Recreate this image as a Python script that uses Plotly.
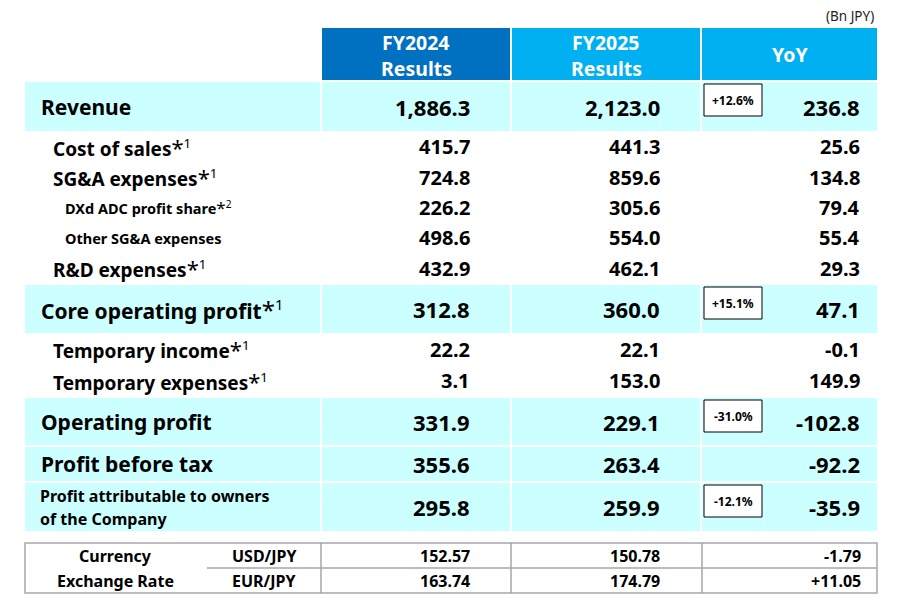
import plotly.graph_objects as go

# Données du tableau (milliards de JPY)
labels = ["Revenue", "Cost of sales", "SG&A expenses", "DXd ADC profit share",
          "Other SG&A expenses", "R&D expenses", "Core operating profit",
          "Temporary income", "Temporary expenses", "Operating profit",
          "Profit before tax", "Profit attributable to owners<br>of the Company"]
notes = ["", "1", "1", "2", "", "1", "1", "1", "1", "", "", ""]
fy2024 = [1886.3, 415.7, 724.8, 226.2, 498.6, 432.9, 312.8, 22.2, 3.1, 331.9, 355.6, 295.8]
fy2025 = [2123.0, 441.3, 859.6, 305.6, 554.0, 462.1, 360.0, 22.1, 153.0, 229.1, 263.4, 259.9]
yoy = [236.8, 25.6, 134.8, 79.4, 55.4, 29.3, 47.1, -0.1, 149.9, -102.8, -92.2, -35.9]
yoy_pct = ["+12.6%", "", "", "", "", "", "+15.1%", "", "", "-31.0%", "", "-12.1%"]

headers = ["FY2024<br>Results", "FY2025<br>Results", "YoY"]
unit = "(Bn JPY)"

fx_title = ["Currency", "Exchange Rate"]
fx_pairs = ["USD/JPY", "EUR/JPY"]
fx_2024 = [152.57, 163.74]
fx_2025 = [150.78, 174.79]
fx_yoy = [-1.79, 11.05]

# Mise en page (pixels de la page ; la page a une marge de 8 px)
W, H = 897, 607
OFF = 8
FONT = "Noto Sans"
level = [0, 1, 1, 2, 2, 1, 0, 1, 1, 0, 0, 3]
row_h = [51, 31, 30, 30, 31, 30, 50, 32, 31, 49, 36, 50]
highlight = [True, False, False, False, False, False, True, False, False, True, True, True]
label_x = {0: 39, 1: 51, 2: 63, 3: 38}
label_size = {0: 21, 1: 19, 2: 14.5, 3: 16}
value_size = {0: 22, 1: 20, 2: 20, 3: 22}
cols = [(25, 320), (322, 510), (512, 700), (702, 877)]
value_right = [472, 662, 862]
CYAN = "#CCFFFF"

shapes = []
ann = []


def rect(x0, y0, x1, y1, fill, line=None, lw=0):
    shapes.append(dict(type="rect", xref="x", yref="y", x0=x0, y0=y0, x1=x1, y1=y1,
                       fillcolor=fill, line=dict(color=line or fill, width=lw), layer="below"))


def text(x, y, s, size, anchor="right", color="black", bold=True):
    ann.append(dict(x=x, y=y, xref="x", yref="y", text=("<b>%s</b>" % s) if bold else s,
                    showarrow=False, xanchor=anchor, yanchor="middle",
                    font=dict(family=FONT, size=size, color=color)))


def note(n, size):
    return ("<span style='font-weight:normal;font-size:%dpx'>*</span>"
            "<span style='font-weight:normal'><sup>%s</sup></span>") % (size + 3, n)


# en-tête
ann.append(dict(x=876, y=16, xref="x", yref="y", text=unit, showarrow=False,
                xanchor="right", yanchor="middle", font=dict(family=FONT, size=13.5, color="#222")))
head_colors = ["#0070C0", "#00B0F0", "#00B0F0"]
for (x0, x1), h, c in zip(cols[1:], headers, head_colors):
    rect(x0, 28, x1, 80, c)
    parts = h.split("<br>")
    if len(parts) == 2:
        text((x0 + x1) / 2, 42, parts[0], 19.5, "center", "white")
        text((x0 + x1) / 2, 68, parts[1], 19.5, "center", "white")
    else:
        text((x0 + x1) / 2, 54, parts[0], 19.5, "center", "white")

# lignes du compte de résultat
y = 80
for i, lab in enumerate(labels):
    top, bot = y, y + row_h[i]
    y = bot
    lv = level[i]
    if highlight[i]:
        for x0, x1 in cols:
            rect(x0, top + 2, x1, bot, CYAN)
        yc = (top + 2 + bot) / 2
    else:
        yc = (top + bot) / 2
    parts = lab.split("<br>")
    for k, p in enumerate(parts):
        s = "<b>%s</b>" % p
        if notes[i] and k == len(parts) - 1:
            s += note(notes[i], label_size[lv])
        ly = yc + (k - (len(parts) - 1) / 2) * 23
        ann.append(dict(x=label_x[lv], y=ly, xref="x", yref="y", text=s, showarrow=False,
                        xanchor="left", yanchor="middle", align="left",
                        font=dict(family=FONT, size=label_size[lv], color="black")))
    for xr, v in zip(value_right, [fy2024[i], fy2025[i], yoy[i]]):
        text(xr, yc, "{:,.1f}".format(v), value_size[lv])
    if yoy_pct[i]:
        shapes.append(dict(type="rect", xref="x", yref="y", x0=704, x1=762,
                           y0=top + 4, y1=top + 36, fillcolor="white",
                           line=dict(color="black", width=1)))
        text(733, top + 20, yoy_pct[i], 12, "center")

# tableau des taux de change
GRAY = "#A6A6A6"
fx_top, fx_mid, fx_bot = 543, 568, 593
shapes.append(dict(type="rect", xref="x", yref="y", x0=25, x1=877, y0=fx_top, y1=fx_bot,
                   line=dict(color=GRAY, width=1.5)))
for xv in [321, 511, 702]:
    shapes.append(dict(type="line", xref="x", yref="y", x0=xv, x1=xv, y0=fx_top, y1=fx_bot,
                       line=dict(color=GRAY, width=1.5)))
shapes.append(dict(type="line", xref="x", yref="y", x0=207, x1=877, y0=fx_mid, y1=fx_mid,
                   line=dict(color=GRAY, width=1.5)))
for j in range(2):
    yc = (fx_top + fx_mid) / 2 if j == 0 else (fx_mid + fx_bot) / 2
    text(115, yc, fx_title[j], 16, "center")
    text(264, yc, fx_pairs[j], 16, "center")
    text(value_right[0], yc, "{:.2f}".format(fx_2024[j]), 16)
    text(value_right[1], yc, "{:.2f}".format(fx_2025[j]), 16)
    text(value_right[2] + 1, yc, "{:+.2f}".format(fx_yoy[j]) if fx_yoy[j] > 0 else "{:.2f}".format(fx_yoy[j]), 16)

fig = go.Figure()
fig.update_layout(
    width=W - 2 * OFF, height=H - 2 * OFF, margin=dict(l=0, r=0, t=0, b=0),
    paper_bgcolor="white", plot_bgcolor="white",
    xaxis=dict(range=[OFF, W - OFF], visible=False, fixedrange=True),
    yaxis=dict(range=[H - OFF, OFF], visible=False, fixedrange=True),
    shapes=shapes, annotations=ann, showlegend=False,
)
fig.write_html("out.html")
